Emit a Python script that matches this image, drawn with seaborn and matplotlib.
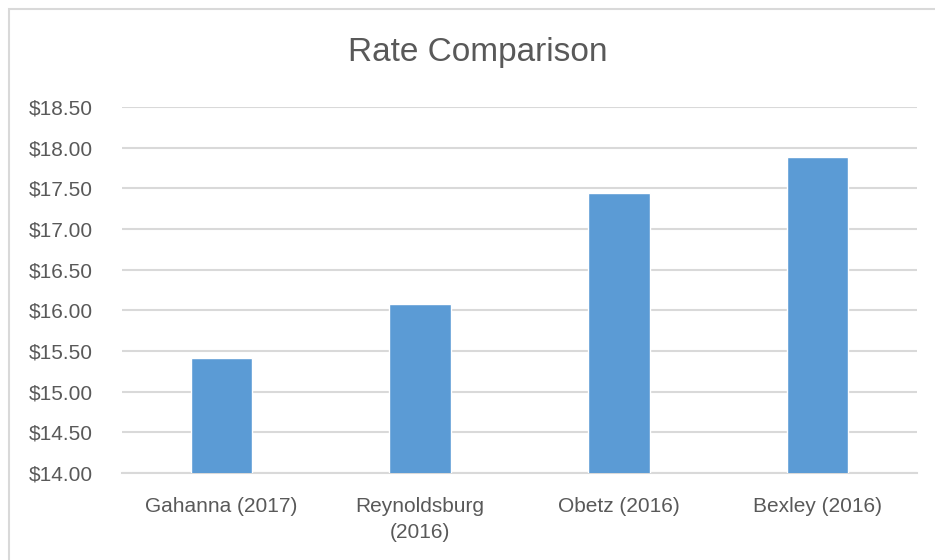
import matplotlib
matplotlib.use("Agg")
import matplotlib.pyplot as plt
import matplotlib.patches as mpatches
from matplotlib.ticker import FuncFormatter
import seaborn as sns
import pandas as pd

# data
cities = ["Gahanna (2017)", "Reynoldsburg\n(2016)", "Obetz (2016)", "Bexley (2016)"]
rates = [15.41, 16.08, 17.44, 17.89]
y_ticks = [14.0, 14.5, 15.0, 15.5, 16.0, 16.5, 17.0, 17.5, 18.0, 18.5]

sns.set_theme(style="white")
plt.rcParams["font.family"] = ["Liberation Sans", "DejaVu Sans"]

text_color = "#595959"
bar_color = "#5B9BD5"
grid_color = "#D9D9D9"

df = pd.DataFrame({"city": cities, "rate": rates})

fig = plt.figure(figsize=(9.35, 5.6), dpi=100)
ax = fig.add_axes([122 / 935, 1 - 473 / 560, (917 - 122) / 935, (473 - 107) / 560])

sns.barplot(data=df, x="city", y="rate", color=bar_color, width=0.31,
            saturation=1, ax=ax, zorder=3)

ax.set_ylim(14.0, 18.5)
ax.set_xlim(-0.5, 3.5)
ax.set_yticks(y_ticks)
ax.yaxis.set_major_formatter(FuncFormatter(lambda v, p: f"${v:.2f}"))
ax.grid(axis="y", color=grid_color, linewidth=1.5, zorder=0)
ax.set_axisbelow(True)

for side in ["top", "right", "left"]:
    ax.spines[side].set_visible(False)
ax.spines["bottom"].set_color(grid_color)
ax.spines["bottom"].set_linewidth(1.5)

ax.tick_params(axis="both", length=0, labelsize=15, colors=text_color)
ax.tick_params(axis="x", pad=17)
ax.tick_params(axis="y", pad=21)
for lbl in ax.get_xticklabels():
    lbl.set_linespacing(1.5)
ax.set_xlabel("")
ax.set_ylabel("")

fig.text(478 / 935, 1 - 52 / 560, "Rate Comparison", ha="center", va="center",
         fontsize=24, color=text_color)

# light frame of the chart area
fig.patches.append(mpatches.Rectangle((9 / 935, -0.1), 1.2, 1 - 9 / 560 + 0.1,
                                      transform=fig.transFigure, fill=False,
                                      edgecolor=grid_color, linewidth=1.5))

fig.savefig("out.png", dpi=100)
